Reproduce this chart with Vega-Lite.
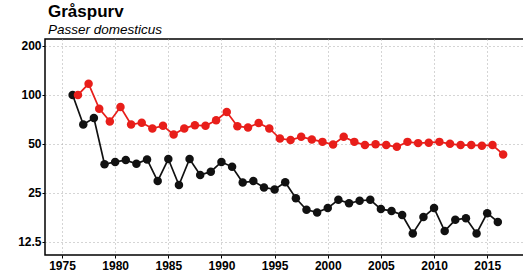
{
  "$schema": "https://vega.github.io/schema/vega-lite/v6.json",
  "width": 481,
  "height": 216,
  "autosize": {"type": "none"},
  "padding": {"left": 45, "top": 39, "right": 0, "bottom": 20},
  "background": "white",
  "title": {
    "text": "Gråspurv",
    "subtitle": "Passer domesticus",
    "anchor": "start",
    "frame": "group",
    "font": "Liberation Sans",
    "fontSize": 17,
    "fontWeight": "bold",
    "color": "black",
    "subtitleFont": "Liberation Sans",
    "subtitleFontSize": 13.5,
    "subtitleFontStyle": "italic",
    "subtitleColor": "black",
    "subtitlePadding": 2,
    "offset": 2,
    "dx": 3
  },
  "config": {
    "view": {"stroke": "black", "strokeWidth": 1.5},
    "axis": {
      "labelFont": "Liberation Sans",
      "labelFontSize": 12,
      "labelFontWeight": "bold",
      "labelColor": "black",
      "domain": false,
      "grid": true,
      "gridColor": "#aaa",
      "gridDash": [1, 3],
      "gridWidth": 1,
      "tickColor": "black",
      "tickSize": 3,
      "title": null
    }
  },
  "data": {
    "values": [
      {"series": "black", "year": 1976, "value": 100},
      {"series": "black", "year": 1977, "value": 65.8},
      {"series": "black", "year": 1978, "value": 72.2},
      {"series": "black", "year": 1979, "value": 37.5},
      {"series": "black", "year": 1980, "value": 38.8},
      {"series": "black", "year": 1981, "value": 39.8},
      {"series": "black", "year": 1982, "value": 37.8},
      {"series": "black", "year": 1983, "value": 40.2},
      {"series": "black", "year": 1984, "value": 29.6},
      {"series": "black", "year": 1985, "value": 40.4},
      {"series": "black", "year": 1986, "value": 28.0},
      {"series": "black", "year": 1987, "value": 40.4},
      {"series": "black", "year": 1988, "value": 32.2},
      {"series": "black", "year": 1989, "value": 33.8},
      {"series": "black", "year": 1990, "value": 38.8},
      {"series": "black", "year": 1991, "value": 36.2},
      {"series": "black", "year": 1992, "value": 29.0},
      {"series": "black", "year": 1993, "value": 29.6},
      {"series": "black", "year": 1994, "value": 27.0},
      {"series": "black", "year": 1995, "value": 26.3},
      {"series": "black", "year": 1996, "value": 29.1},
      {"series": "black", "year": 1997, "value": 23.2},
      {"series": "black", "year": 1998, "value": 19.7},
      {"series": "black", "year": 1999, "value": 19.0},
      {"series": "black", "year": 2000, "value": 20.2},
      {"series": "black", "year": 2001, "value": 22.7},
      {"series": "black", "year": 2002, "value": 21.6},
      {"series": "black", "year": 2003, "value": 22.4},
      {"series": "black", "year": 2004, "value": 22.7},
      {"series": "black", "year": 2005, "value": 19.9},
      {"series": "black", "year": 2006, "value": 19.4},
      {"series": "black", "year": 2007, "value": 18.3},
      {"series": "black", "year": 2008, "value": 14.1},
      {"series": "black", "year": 2009, "value": 17.8},
      {"series": "black", "year": 2010, "value": 20.2},
      {"series": "black", "year": 2011, "value": 14.6},
      {"series": "black", "year": 2012, "value": 17.1},
      {"series": "black", "year": 2013, "value": 17.5},
      {"series": "black", "year": 2014, "value": 14.1},
      {"series": "black", "year": 2015, "value": 18.8},
      {"series": "black", "year": 2016, "value": 16.6},
      {"series": "red", "year": 1976.5, "value": 100},
      {"series": "red", "year": 1977.5, "value": 117},
      {"series": "red", "year": 1978.5, "value": 82.4},
      {"series": "red", "year": 1979.5, "value": 68.8},
      {"series": "red", "year": 1980.5, "value": 84.4},
      {"series": "red", "year": 1981.5, "value": 65.8},
      {"series": "red", "year": 1982.5, "value": 67.6},
      {"series": "red", "year": 1983.5, "value": 62.3},
      {"series": "red", "year": 1984.5, "value": 64.6},
      {"series": "red", "year": 1985.5, "value": 57.2},
      {"series": "red", "year": 1986.5, "value": 62.3},
      {"series": "red", "year": 1987.5, "value": 65.2},
      {"series": "red", "year": 1988.5, "value": 64.6},
      {"series": "red", "year": 1989.5, "value": 69.9},
      {"series": "red", "year": 1990.5, "value": 78.6},
      {"series": "red", "year": 1991.5, "value": 64.3},
      {"series": "red", "year": 1992.5, "value": 63.1},
      {"series": "red", "year": 1993.5, "value": 67.2},
      {"series": "red", "year": 1994.5, "value": 62.3},
      {"series": "red", "year": 1995.5, "value": 54.0},
      {"series": "red", "year": 1996.5, "value": 52.8},
      {"series": "red", "year": 1997.5, "value": 55.3},
      {"series": "red", "year": 1998.5, "value": 53.3},
      {"series": "red", "year": 1999.5, "value": 51.5},
      {"series": "red", "year": 2000.5, "value": 49.6},
      {"series": "red", "year": 2001.5, "value": 55.3},
      {"series": "red", "year": 2002.5, "value": 51.5},
      {"series": "red", "year": 2003.5, "value": 49.2},
      {"series": "red", "year": 2004.5, "value": 49.8},
      {"series": "red", "year": 2005.5, "value": 49.2},
      {"series": "red", "year": 2006.5, "value": 48.0},
      {"series": "red", "year": 2007.5, "value": 51.5},
      {"series": "red", "year": 2008.5, "value": 50.6},
      {"series": "red", "year": 2009.5, "value": 50.9},
      {"series": "red", "year": 2010.5, "value": 51.5},
      {"series": "red", "year": 2011.5, "value": 50.1},
      {"series": "red", "year": 2012.5, "value": 49.2},
      {"series": "red", "year": 2013.5, "value": 49.2},
      {"series": "red", "year": 2014.5, "value": 48.8},
      {"series": "red", "year": 2015.5, "value": 49.2},
      {"series": "red", "year": 2016.5, "value": 43.1}
    ]
  },
  "mark": {"type": "line", "strokeWidth": 1.7, "point": {"filled": true, "size": 72, "opacity": 1}},
  "encoding": {
    "x": {
      "field": "year",
      "type": "quantitative",
      "scale": {"domain": [1973.4, 2018.65], "nice": false, "zero": false},
      "axis": {"values": [1975, 1980, 1985, 1990, 1995, 2000, 2005, 2010, 2015], "format": "d", "labelPadding": 2}
    },
    "y": {
      "field": "value",
      "type": "quantitative",
      "scale": {"type": "log", "base": 2, "domain": [10.4, 220.6], "nice": false},
      "axis": {"values": [12.5, 25, 50, 100, 200], "format": "~g", "labelPadding": 1}
    },
    "color": {
      "field": "series",
      "type": "nominal",
      "scale": {"domain": ["black", "red"], "range": ["#111111", "#e81e1a"]},
      "legend": null
    },
    "order": {"field": "year", "type": "quantitative"}
  }
}
